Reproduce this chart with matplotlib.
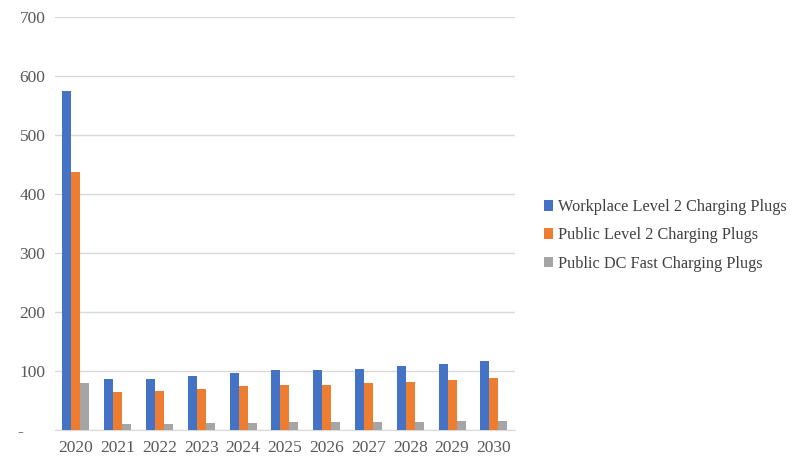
import numpy as np
import matplotlib.pyplot as plt

plt.rcParams['font.family'] = ['Liberation Serif', 'DejaVu Serif']

years = ['2020', '2021', '2022', '2023', '2024', '2025', '2026', '2027', '2028', '2029', '2030']
workplace_l2 = [575, 86, 87, 92, 97, 101, 102, 104, 108, 112, 117]
public_l2 = [438, 65, 66, 70, 74, 77, 77, 79, 82, 85, 88]
public_dcfc = [79, 11, 11, 12, 12, 13, 13, 14, 14, 15, 16]

series = [
    ('Workplace Level 2 Charging Plugs', workplace_l2, '#4472c4'),
    ('Public Level 2 Charging Plugs', public_l2, '#ed7d31'),
    ('Public DC Fast Charging Plugs', public_dcfc, '#a5a5a5'),
]

fig = plt.figure(figsize=(7.98, 4.57), dpi=100)
ax = fig.add_axes([0.069, 0.059, 0.576, 0.904])

x = np.arange(len(years))
w = 0.215
for i, (name, vals, col) in enumerate(series):
    ax.bar(x + (i - 1) * w, vals, width=w, color=col, label=name, zorder=3)

ax.set_xlim(-0.5, len(years) - 0.5)
ax.set_ylim(0, 700)
ax.set_yticks(range(0, 701, 100))
# accounting-style zero shown as a dash, pushed to the left
ax.set_yticklabels(['-     '] + [str(v) for v in range(100, 701, 100)])
ax.set_xticks(x)
ax.set_xticklabels(years)

ax.grid(axis='y', color='#d9d9d9', linewidth=1, zorder=0)
for s in ['top', 'right', 'left']:
    ax.spines[s].set_visible(False)
ax.spines['bottom'].set_color('#d9d9d9')
ax.tick_params(axis='both', length=0, colors='#595959', labelsize=12.5, pad=7)

fig.legend(loc='center left', bbox_to_anchor=(0.663, 0.485), frameon=False,
           fontsize=11.7, labelcolor='#404040', handlelength=0.6, handleheight=0.6,
           handletextpad=0.3, labelspacing=0.75)

fig.savefig('out.png', dpi=100)
